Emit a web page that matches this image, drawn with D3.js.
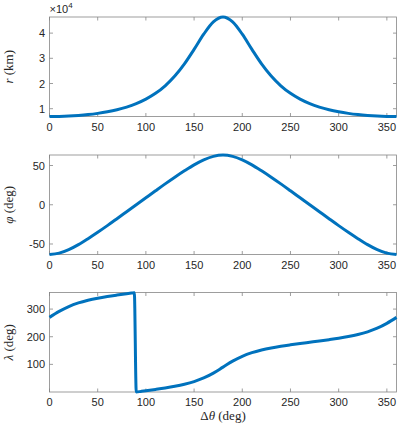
<!DOCTYPE html>
<html>
<head>
<meta charset="utf-8">
<script src="https://cdn.jsdelivr.net/npm/d3@7"></script>
<style>
  body { margin: 0; background: #fff; }
  .tick-label { font-family: "Liberation Sans", Arial, sans-serif; font-size: 11px; fill: #262626; }
  .axis-title { font-family: "Liberation Serif", "Times New Roman", serif; font-size: 13px; fill: #262626; }
</style>
</head>
<body>
<script>
// true anomaly change (deg), shared by r and phi
const thetaDeg = [0, 10, 20, 30, 40, 50, 60, 70, 80, 90, 100, 110, 120, 130, 140, 150, 160, 170, 180,
    190, 200, 210, 220, 230, 240, 250, 260, 270, 280, 290, 300, 310, 320, 330, 340, 350, 360];

// radius (km)
const radiusKm = [6900, 6945, 7080, 7320, 7660, 8140, 8770, 9580, 10640, 12010, 13790, 16090, 19090,
    22950, 27790, 33540, 39570, 44460, 46400, 44460, 39570, 33540, 27790, 22950, 19090, 16090, 13790,
    12010, 10640, 9580, 8770, 8140, 7660, 7320, 7080, 6945, 6900];

// latitude phi (deg)
const latitudeDeg = [-63.4, -61.7, -57.2, -50.8, -43.2, -35.1, -26.6, -17.8, -8.9, 0, 8.9, 17.8, 26.6,
    35.1, 43.2, 50.8, 57.2, 61.7, 63.4, 61.7, 57.2, 50.8, 43.2, 35.1, 26.6, 17.8, 8.9, 0, -8.9, -17.8,
    -26.6, -35.1, -43.2, -50.8, -57.2, -61.7, -63.4];

// longitude lambda (deg), has its own theta samples around the wrap
const lambdaTheta = [0, 10, 20, 30, 40, 50, 60, 70, 80, 85, 88, 90, 95, 100, 110, 120, 130, 140, 150,
    160, 170, 180, 190, 200, 210, 220, 230, 240, 250, 260, 270, 280, 290, 300, 310, 320, 330, 340, 350, 360];
const lambdaDeg = [270, 291.5, 309.1, 322.2, 331.9, 339.4, 345.5, 350.7, 355.5, 357.8, 359.1, 0, 2.2,
    4.5, 9.3, 14.5, 20.6, 28.1, 37.8, 50.9, 68.5, 90, 111.5, 129.1, 142.2, 151.9, 159.4, 165.5, 170.7,
    175.5, 180, 184.5, 189.3, 194.5, 200.6, 208.1, 217.8, 230.9, 248.5, 270];

const thetaTicks = [0, 50, 100, 150, 200, 250, 300, 350];
const radiusTicks = [10000, 20000, 30000, 40000];
const latitudeTicks = [-50, 0, 50];
const lambdaTicks = [100, 200, 300];

(function() {

    const width = 399;
    const height = 426;
    const left = 49.5;
    const right = 396.5;
    const panelHeight = 99.5;
    const lineColor = "#0072BD";
    const boxColor = "#858585";
    const tickLen = 3.5;

    let svg = d3.select("body")
        .append("svg")
        .attr("width", width)
        .attr("height", height);

    let x = d3.scaleLinear()
        .domain([0, 360])
        .range([left, right]);

    let panels = [
        { top: 17, xs: thetaDeg, ys: radiusKm, domain: [6900, 46400], ticks: radiusTicks,
          fmt: d => d / 10000, title: ["r", " (km)"] },
        { top: 155, xs: thetaDeg, ys: latitudeDeg, domain: [-63.4, 63.4], ticks: latitudeTicks,
          fmt: d => d, title: ["\u03C6", " (deg)"] },
        { top: 292.5, xs: lambdaTheta, ys: lambdaDeg, domain: [0, 360], ticks: lambdaTicks,
          fmt: d => d, title: ["\u03BB", " (deg)"] }
    ];

    panels.forEach(function(p) {
        let bottom = p.top + panelHeight;
        let y = d3.scaleLinear().domain(p.domain).range([bottom, p.top]);
        let g = svg.append("g");

        // box
        g.append("rect")
            .attr("x", left).attr("y", p.top)
            .attr("width", right - left).attr("height", panelHeight)
            .attr("fill", "none")
            .attr("stroke", boxColor)
            .attr("stroke-width", 0.8);

        // x ticks, inward on bottom and top
        thetaTicks.forEach(function(t) {
            let xp = x(t);
            g.append("line").attr("x1", xp).attr("x2", xp)
                .attr("y1", bottom).attr("y2", bottom - tickLen)
                .attr("stroke", boxColor).attr("stroke-width", 0.8);
            g.append("line").attr("x1", xp).attr("x2", xp)
                .attr("y1", p.top).attr("y2", p.top + tickLen)
                .attr("stroke", boxColor).attr("stroke-width", 0.8);
            g.append("text")
                .attr("class", "tick-label")
                .attr("x", xp).attr("y", bottom + 14)
                .attr("text-anchor", "middle")
                .text(t);
        });

        // y ticks, inward on left and right
        p.ticks.forEach(function(t) {
            let yp = y(t);
            g.append("line").attr("x1", left).attr("x2", left + tickLen)
                .attr("y1", yp).attr("y2", yp)
                .attr("stroke", boxColor).attr("stroke-width", 0.8);
            g.append("line").attr("x1", right).attr("x2", right - tickLen)
                .attr("y1", yp).attr("y2", yp)
                .attr("stroke", boxColor).attr("stroke-width", 0.8);
            g.append("text")
                .attr("class", "tick-label")
                .attr("x", left - 4.5).attr("y", yp + 4)
                .attr("text-anchor", "end")
                .text(p.fmt(t));
        });

        // y title, rotated
        let title = g.append("text")
            .attr("class", "axis-title")
            .attr("text-anchor", "middle")
            .attr("transform", "translate(12.5," + (p.top + panelHeight / 2) + ") rotate(-90)");
        title.append("tspan").attr("font-style", "italic").text(p.title[0]);
        title.append("tspan").text(p.title[1]);

        // the series line
        let line = d3.line()
            .x((d, i) => x(p.xs[i]))
            .y(d => y(d))
            .curve(d3.curveMonotoneX);

        g.append("path")
            .datum(p.ys)
            .attr("d", line)
            .attr("fill", "none")
            .attr("stroke", lineColor)
            .attr("stroke-width", 3)
            .attr("stroke-linejoin", "round");
    });

    // x10^4 exponent label over the first panel
    let expo = svg.append("text")
        .attr("class", "tick-label")
        .attr("x", left)
        .attr("y", 13);
    expo.append("tspan").text("\u00D710");
    expo.append("tspan").attr("dy", -5).attr("font-size", "8px").text("4");

    // shared x title
    let xt = svg.append("text")
        .attr("class", "axis-title")
        .attr("x", (left + right) / 2)
        .attr("y", 420)
        .attr("text-anchor", "middle");
    xt.append("tspan").text("\u0394");
    xt.append("tspan").attr("font-style", "italic").text("\u03B8");
    xt.append("tspan").text(" (deg)");

})();
</script>
</body>
</html>
